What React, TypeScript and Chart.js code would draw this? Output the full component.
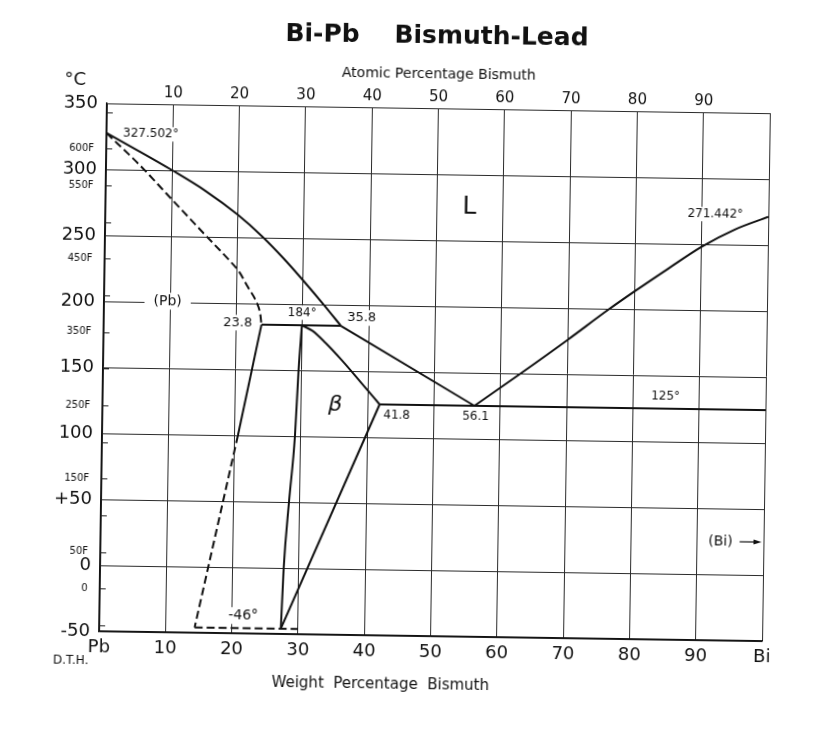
import React, { useEffect, useRef } from 'react';
import { Chart, registerables } from 'chart.js';

Chart.register(...registerables);

// ---------- data (x = weight % Bi, y = temperature °C) ----------
const liquidusPbW = [0, 5, 10, 15, 20, 23.7, 27, 30, 33.3, 35.8];
const liquidusPbT = [327.502, 314, 300, 285, 267, 251, 234.5, 218, 199, 184];

const solidusPbW = [0, 5, 10, 15, 18.7, 20.3, 21.6, 23.1, 23.6, 23.8];
const solidusPbT = [327.502, 304, 278, 252, 233, 224, 213, 200, 192, 184];

const solvusPbSolidW = [23.8, 20.5];
const solvusPbSolidT = [184, 100];

const solvusPbDashedW = [20.5, 14.4];
const solvusPbDashedT = [100, -46];

const peritecticW = [23.8, 35.8];
const peritecticT = [184, 184];

const liquidusMidW = [35.8, 56.1];
const liquidusMidT = [184, 125];

const liquidusBiW = [56.1, 63, 70, 76, 80, 85, 90, 95, 100];
const liquidusBiT = [125, 150, 176, 199, 213.5, 231, 248, 261.5, 271.442];

const eutecticW = [41.8, 100];
const eutecticT = [125, 125];

const betaSolidusW = [27.4, 27.7, 28.35, 29.1, 29.5, 29.9];
const betaSolidusT = [-46, 0, 50, 100, 150, 184];

const betaSolvusW = [29.9, 31.5, 33.5, 36, 39, 41.8];
const betaSolvusT = [184, 180, 171, 158, 141, 125];

const betaBiSolvusW = [41.8, 27.4];
const betaBiSolvusT = [125, -46];

const eutectoidW = [14.4, 30];
const eutectoidT = [-46, -46];

// ---------- ticks ----------
const weightTicks = [0, 10, 20, 30, 40, 50, 60, 70, 80, 90, 100];
const weightTickLabels = ['Pb', '10', '20', '30', '40', '50', '60', '70', '80', '90', 'Bi'];
const atomicTicks = [10, 20, 30, 40, 50, 60, 70, 80, 90];
const celsiusTicks = [350, 300, 250, 200, 150, 100, 50, 0, -50];
const celsiusLabels = ['350', '300', '250', '200', '150', '100', '+50', '0', '-50'];
const fahrenheitTicks = [650, 600, 550, 500, 450, 400, 350, 300, 250, 200, 150, 100, 50, 0, -50];
const fahrenheitLabels = ['', '600F', '550F', '', '450F', '', '350F', '', '250F', '', '150F', '', '50F', '0', ''];

// ---------- text notes on the diagram (placed in data units) ----------
const notes = [
  { text: '327.502°', w: 2.5, t: 327.2, size: 12, align: 'left' },
  { text: 'L', w: 54.9, t: 275.2, size: 25 },
  { text: '271.442°', w: 92, t: 272.8, size: 12 },
  { text: '(Pb)', w: 9.6, t: 200.8, size: 14, pad: 9 },
  { text: '23.8', w: 20.2, t: 185.3, size: 13 },
  { text: '184°', w: 29.9, t: 193.6, size: 12 },
  { text: '35.8', w: 38.9, t: 190.3, size: 13 },
  { text: 'β', w: 35.1, t: 124.3, size: 22, style: 'italic' },
  { text: '41.8', w: 44.4, t: 116.5, size: 12 },
  { text: '56.1', w: 56.3, t: 116.6, size: 12 },
  { text: '125°', w: 84.9, t: 134, size: 12 },
  { text: '(Bi)', w: 93.5, t: 25.1, size: 14 },
  { text: '-46°', w: 21.7, t: -36.6, size: 14 },
];
const arrowW = [96.4, 99.7];
const arrowT = 25;

const FONT = '"DejaVu Sans", sans-serif';
const INK = '#111';

const toF = (f: number) => ((f - 32) * 5) / 9;
const isCelsius = (v: number) => celsiusTicks.indexOf(v) >= 0;

const pts = (w: number[], t: number[]) => w.map((x, i) => ({ x, y: t[i] }));

function line(label: string, w: number[], t: number[], opts: any = {}) {
  return {
    label,
    data: pts(w, t),
    showLine: true,
    borderColor: INK,
    borderWidth: 2,
    pointRadius: 0,
    pointHoverRadius: 0,
    fill: false,
    ...opts,
  };
}

const decorPlugin = {
  id: 'decor',
  beforeDatasetsDraw(chart: any) {
    const { ctx, chartArea, scales } = chart;
    const xs = scales.x;
    const ys = scales.y;
    ctx.save();
    // Fahrenheit tick marks on the inside of the left frame
    ctx.strokeStyle = '#222';
    ctx.lineWidth = 1;
    fahrenheitTicks.forEach((f) => {
      const y = Math.round(ys.getPixelForValue(toF(f))) + 0.5;
      ctx.beginPath();
      ctx.moveTo(chartArea.left, y);
      ctx.lineTo(chartArea.left + 6, y);
      ctx.stroke();
    });
    // labels with white knock-out boxes
    notes.forEach((n: any) => {
      ctx.font = `${n.style || 'normal'} normal ${n.size}px ${FONT}`;
      const px = xs.getPixelForValue(n.w);
      const py = ys.getPixelForValue(n.t);
      const m = ctx.measureText(n.text);
      const left = n.align === 'left' ? px : px - m.width / 2;
      const pad = n.pad ?? 2;
      ctx.fillStyle = '#fff';
      ctx.fillRect(left - pad, py - n.size * 0.6, m.width + pad * 2, n.size * 1.2);
      ctx.fillStyle = INK;
      ctx.textAlign = 'left';
      ctx.textBaseline = 'middle';
      ctx.fillText(n.text, left, py);
    });
    ctx.restore();
  },
  afterDatasetsDraw(chart: any) {
    const { ctx, scales } = chart;
    const xs = scales.x;
    const ys = scales.y;
    const x0 = xs.getPixelForValue(arrowW[0]);
    const x1 = xs.getPixelForValue(arrowW[1]);
    const y = ys.getPixelForValue(arrowT);
    ctx.save();
    ctx.strokeStyle = INK;
    ctx.fillStyle = INK;
    ctx.lineWidth = 1.2;
    ctx.beginPath();
    ctx.moveTo(x0, y);
    ctx.lineTo(x1 - 5, y);
    ctx.stroke();
    ctx.beginPath();
    ctx.moveTo(x1, y);
    ctx.lineTo(x1 - 8, y - 2.5);
    ctx.lineTo(x1 - 8, y + 2.5);
    ctx.closePath();
    ctx.fill();
    ctx.restore();
  },
  afterDraw(chart: any) {
    const { ctx, chartArea } = chart;
    ctx.save();
    ctx.fillStyle = INK;
    ctx.textAlign = 'center';
    ctx.textBaseline = 'middle';
    ctx.font = `bold 25px ${FONT}`;
    ctx.fillText('Bi-Pb    Bismuth-Lead', chartArea.left + 329, 36);
    ctx.font = `18px ${FONT}`;
    ctx.fillText('°C', chartArea.left - 32, 85);
    ctx.font = `12px ${FONT}`;
    ctx.fillText('D.T.H.', chartArea.left - 28, 666);
    ctx.font = `15px ${FONT}`;
    ctx.fillText('Weight  Percentage  Bismuth', chartArea.left + 282, 685);
    ctx.restore();
  },
};

export default function App() {
  const ref = useRef<HTMLCanvasElement>(null);

  useEffect(() => {
    if (!ref.current) return;
    const dashed = { borderDash: [8, 4] };
    const smooth = { cubicInterpolationMode: 'monotone' };
    const chart = new Chart(ref.current, {
      type: 'scatter',
      data: {
        datasets: [
          line('Liquidus (Pb side)', liquidusPbW, liquidusPbT, smooth),
          line('Solidus (Pb)', solidusPbW, solidusPbT, { ...smooth, ...dashed }),
          line('Solvus (Pb)', solvusPbSolidW, solvusPbSolidT),
          line('Solvus (Pb) dashed', solvusPbDashedW, solvusPbDashedT, dashed),
          line('Peritectic 184°', peritecticW, peritecticT),
          line('Liquidus (middle)', liquidusMidW, liquidusMidT),
          line('Liquidus (Bi side)', liquidusBiW, liquidusBiT, smooth),
          line('Eutectic 125°', eutecticW, eutecticT),
          line('β solidus', betaSolidusW, betaSolidusT, smooth),
          line('β solvus', betaSolvusW, betaSolvusT, smooth),
          line('β / Bi solvus', betaBiSolvusW, betaBiSolvusT),
          line('-46° line', eutectoidW, eutectoidT, dashed),
        ] as any,
      },
      options: {
        responsive: false,
        animation: false,
        devicePixelRatio: 1,
        layout: { padding: { left: 0, top: 0, right: 73, bottom: 0 } },
        font: { family: FONT },
        plugins: {
          legend: { display: false },
          title: { display: false },
          tooltip: { enabled: false },
        },
        events: [],
        scales: {
          x: {
            type: 'linear',
            position: 'bottom',
            min: 0,
            max: 100,
            afterBuildTicks: (s: any) => {
              s.ticks = weightTicks.map((v) => ({ value: v }));
            },
            afterFit: (s: any) => {
              s.height = 105;
            },
            ticks: {
              autoSkip: false,
              maxRotation: 0,
              padding: 6,
              color: INK,
              font: { size: 18, family: FONT },
              callback: (v: any) => weightTickLabels[weightTicks.indexOf(Number(v))] ?? '',
            },
            grid: { color: '#2b2b2b', lineWidth: 1, drawTicks: false },
            border: { display: true, color: INK, width: 1.5 },
          },
          x2: {
            type: 'linear',
            position: 'top',
            min: 0,
            max: 100,
            afterBuildTicks: (s: any) => {
              s.ticks = atomicTicks.map((v) => ({ value: v }));
            },
            afterFit: (s: any) => {
              s.height = 108;
            },
            ticks: {
              autoSkip: false,
              maxRotation: 0,
              padding: 2,
              color: INK,
              font: { size: 15, family: FONT },
              callback: (v: any) => String(v),
            },
            grid: { display: false, drawTicks: false },
            border: { display: false },
            title: {
              display: true,
              text: 'Atomic Percentage Bismuth',
              color: INK,
              font: { size: 14, family: FONT },
              padding: { top: 66, bottom: 0 },
            },
          },
          y: {
            type: 'linear',
            position: 'left',
            min: -50,
            max: 350,
            afterBuildTicks: (s: any) => {
              const vals = [...celsiusTicks, ...fahrenheitTicks.map(toF)].sort((a, b) => a - b);
              s.ticks = vals.map((v) => ({ value: v }));
            },
            afterFit: (s: any) => {
              s.width = 103;
            },
            ticks: {
              autoSkip: false,
              padding: 9,
              color: INK,
              font: (c: any) =>
                c.tick && isCelsius(c.tick.value)
                  ? { size: 18, family: FONT }
                  : { size: 10, family: FONT },
              callback: (v: any) => {
                const n = Number(v);
                const ci = celsiusTicks.indexOf(n);
                if (ci >= 0) return celsiusLabels[ci];
                const fi = fahrenheitTicks.findIndex((f) => Math.abs(toF(f) - n) < 1e-6);
                return fi >= 0 && fahrenheitLabels[fi] ? fahrenheitLabels[fi] + ' ' : '';
              },
            },
            grid: {
              drawTicks: false,
              lineWidth: 1,
              color: (c: any) => (c.tick && isCelsius(c.tick.value) ? '#2b2b2b' : 'rgba(0,0,0,0)'),
            },
            border: { display: true, color: INK, width: 1.5 },
          },
        },
      } as any,
      plugins: [decorPlugin],
    });
    return () => chart.destroy();
  }, []);

  return (
    <div
      style={{
        position: 'fixed',
        left: 0,
        top: 0,
        width: 839,
        height: 741,
        overflow: 'hidden',
        background: '#fff',
      }}
    >
      <div
        style={{
          width: 839,
          height: 741,
          transform: 'rotate(0.85deg)',
          transformOrigin: '419.5px 370.5px',
        }}
      >
        <canvas ref={ref} width={839} height={741} style={{ display: 'block', width: 839, height: 741 }} />
      </div>
    </div>
  );
}
